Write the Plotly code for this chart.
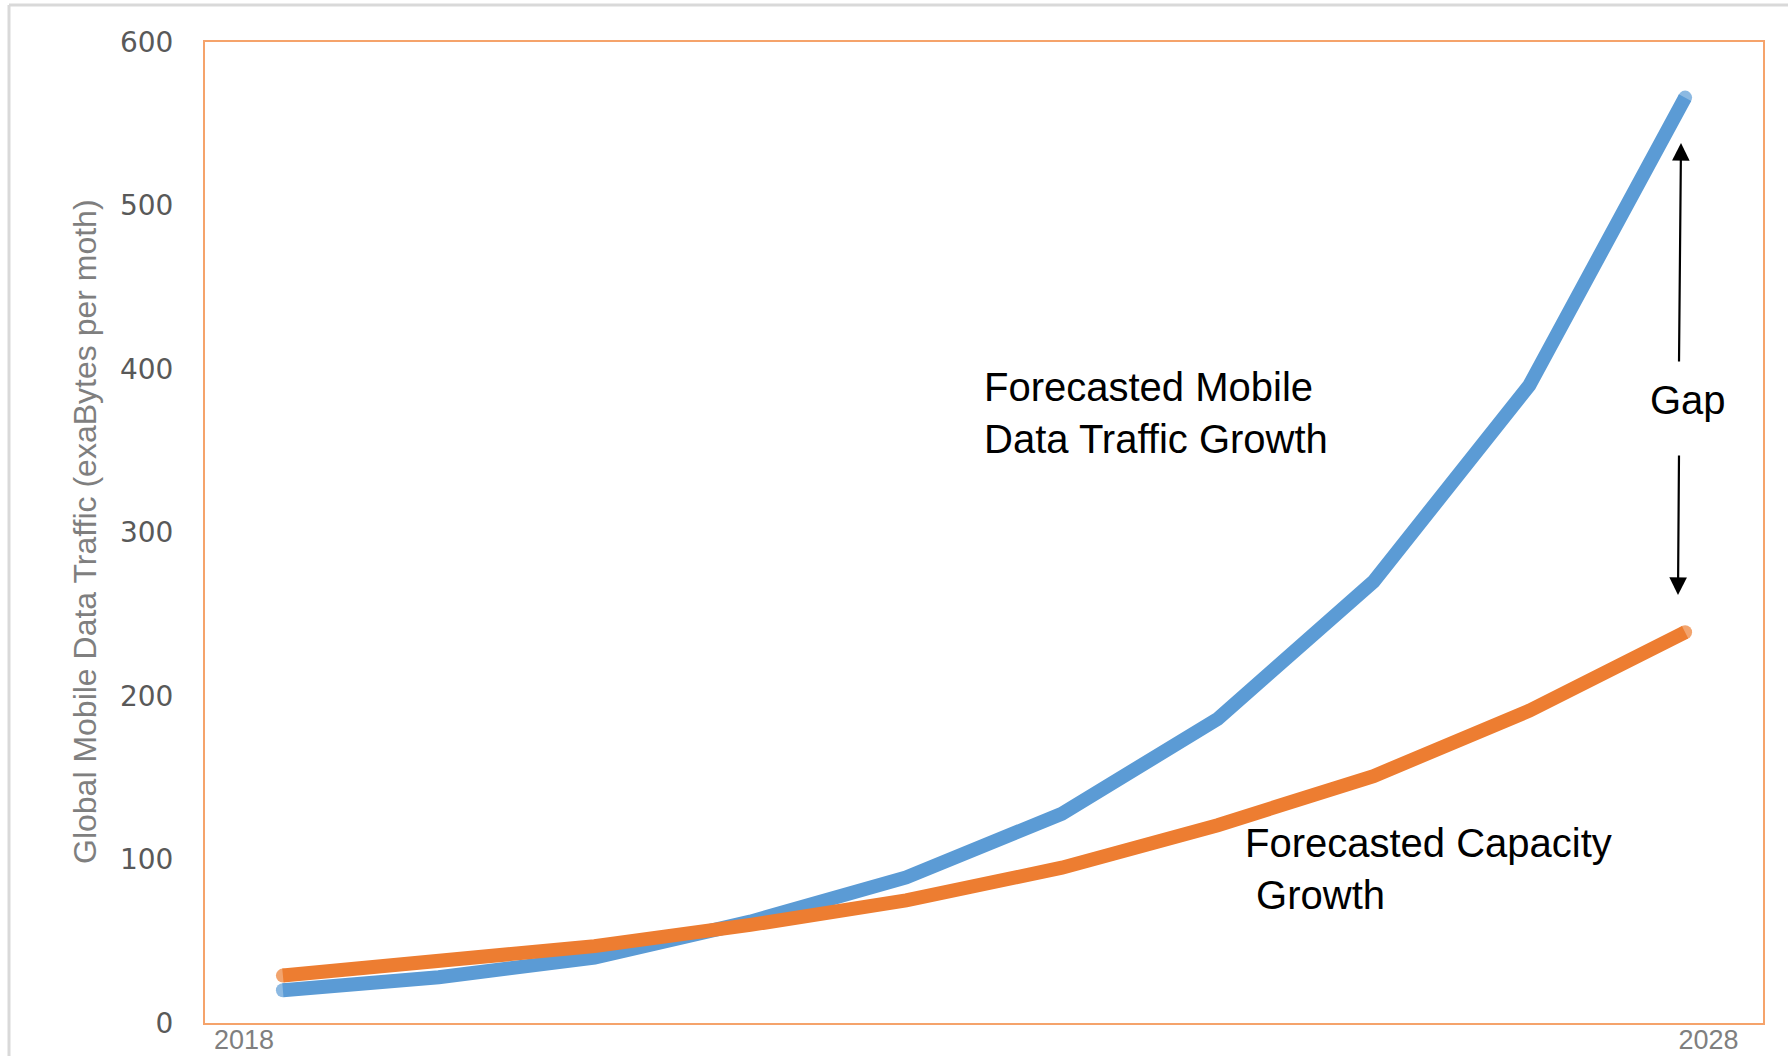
import plotly.graph_objects as go

# ---- data ----
periods = list(range(10))                      # 10 yearly categories
traffic = [20, 28, 40, 62, 89, 128, 186, 270, 390, 566]   # Forecasted mobile data traffic
capacity = [29, 37, 47, 60, 75, 95, 121, 151, 191, 239]  # Forecasted capacity
x_tick_vals = [-0.25, 9.15]
x_tick_text = ["2018", "2028"]
y_ticks = [0, 100, 200, 300, 400, 500, 600]

BLUE = "#5B9BD5"
ORANGE = "#ED7D31"

W, H = 1788, 1056
L, R, T, B = 205, 25, 42, 33
PW, PH = W - L - R, H - T - B


def px(x):
    return (x - L) / PW


def py(y):
    return (H - B - y) / PH


def cap_sizes(n, s):
    return [s] + [0] * (n - 2) + [s]


fig = go.Figure()
fig.add_trace(go.Scatter(
    x=periods, y=traffic, mode="lines+markers",
    line=dict(color=BLUE, width=14),
    marker=dict(color=BLUE, size=cap_sizes(len(traffic), 14), line=dict(width=0)),
    showlegend=False, hoverinfo="skip"))
fig.add_trace(go.Scatter(
    x=periods, y=capacity, mode="lines+markers",
    line=dict(color=ORANGE, width=14),
    marker=dict(color=ORANGE, size=cap_sizes(len(capacity), 14), line=dict(width=0)),
    showlegend=False, hoverinfo="skip"))

fig.update_layout(
    width=W, height=H,
    margin=dict(l=L, r=R, t=T, b=B, autoexpand=False),
    paper_bgcolor="white", plot_bgcolor="white",
    xaxis=dict(range=[-0.5, 9.5], showgrid=False, zeroline=False,
               tickvals=x_tick_vals, ticktext=x_tick_text, ticks="",
               tickfont=dict(family="Liberation Sans, Arial, sans-serif", size=27, color="#7F7F7F"),
               ticklabelstandoff=-8,
               showline=True, linecolor="#F5A36B", linewidth=2, mirror=True),
    yaxis=dict(range=[0, 600], showgrid=False, zeroline=False,
               tickvals=y_ticks, ticks="",
               tickfont=dict(family="DejaVu Sans, sans-serif", size=28, color="#595959"),
               ticklabelstandoff=24,
               showline=True, linecolor="#F5A36B", linewidth=2, mirror=True),
)

ann_font = dict(family="Liberation Sans, Arial, sans-serif", size=40, color="black")
fig.add_annotation(xref="paper", yref="paper", x=px(982), y=py(413),
                   xanchor="left", yanchor="middle", align="left", showarrow=False,
                   text="Forecasted Mobile<br>Data Traffic Growth", font=ann_font)
fig.add_annotation(xref="paper", yref="paper", x=px(1243), y=py(869),
                   xanchor="left", yanchor="middle", align="left", showarrow=False,
                   text="Forecasted Capacity<br>&nbsp;Growth", font=ann_font)
fig.add_annotation(xref="paper", yref="paper", x=px(1688), y=py(400),
                   xanchor="center", yanchor="middle", showarrow=False,
                   text="Gap", font=ann_font)
# arrows
fig.add_annotation(xref="paper", yref="paper", axref="pixel", ayref="pixel",
                   x=px(1681), y=py(143), ax=-2, ay=220, text="", showarrow=True,
                   arrowhead=2, arrowsize=1.6, arrowwidth=2.2, arrowcolor="black")
fig.add_annotation(xref="paper", yref="paper", axref="pixel", ayref="pixel",
                   x=px(1678), y=py(595), ax=1, ay=-141, text="", showarrow=True,
                   arrowhead=2, arrowsize=1.6, arrowwidth=2.2, arrowcolor="black")

# y axis title
fig.add_annotation(xref="paper", yref="paper", x=px(85), y=py(532),
                   xanchor="center", yanchor="middle", textangle=-90, showarrow=False,
                   text="Global Mobile Data Traffic (exaBytes per moth)",
                   font=dict(family="Liberation Sans, Arial, sans-serif",
                             size=32, color="#7F7F7F"))

# outer light-gray frame (top and left)
fig.add_shape(type="line", xref="paper", yref="paper",
              x0=px(9), x1=px(W + 5), y0=py(5), y1=py(5),
              line=dict(color="#D9D9D9", width=3))
fig.add_shape(type="line", xref="paper", yref="paper",
              x0=px(9), x1=px(9), y0=py(5), y1=py(H + 5),
              line=dict(color="#D9D9D9", width=3))

fig.write_html("out.html", config={"displayModeBar": False},
               post_script="document.body.style.margin='0px';document.body.style.overflow='hidden';")
